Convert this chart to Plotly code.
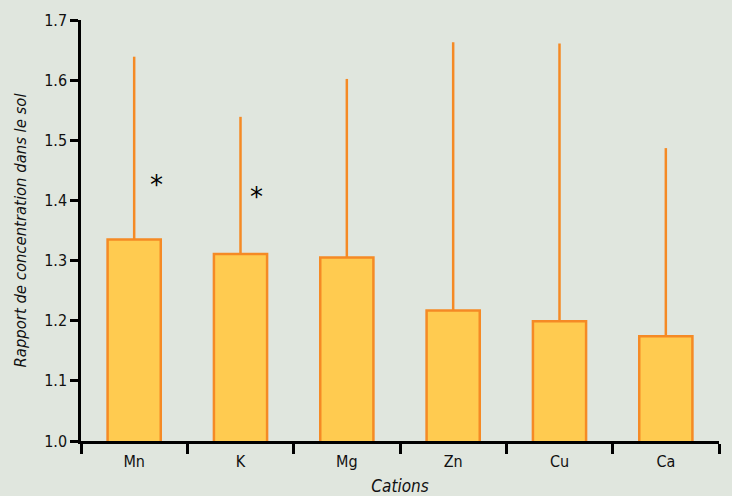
import plotly.graph_objects as go

categories = ["Mn", "K", "Mg", "Zn", "Cu", "Ca"]
means = [1.335, 1.311, 1.305, 1.217, 1.199, 1.174]
upper = [1.639, 1.539, 1.602, 1.663, 1.661, 1.487]
signif = ["*", "*", "", "", "", ""]
sig_y = [1.425, 1.405, None, None, None, None]

err_plus = [u - m for u, m in zip(upper, means)]

BG = "#E0E6DE"
FILL = "#FFCB50"
EDGE = "#F58A25"
FONT = "DejaVu Sans Condensed, Liberation Sans, sans-serif"
STAR_SHIFT = {"Mn": 22, "K": 16}

fig = go.Figure()
fig.add_trace(go.Bar(
    x=categories, y=means, width=0.5,
    marker=dict(color=FILL, line=dict(color=EDGE, width=2.5)),
    error_y=dict(type="data", symmetric=False, array=err_plus,
                 arrayminus=[0] * len(means), width=0, thickness=2.5, color=EDGE),
    hoverinfo="skip",
))

for c, s, yv in zip(categories, signif, sig_y):
    if s:
        fig.add_annotation(x=c, y=yv, text=s, showarrow=False,
                           xshift=STAR_SHIFT.get(c, 20),
                           font=dict(family="DejaVu Sans, sans-serif", size=26, color="#000"))

fig.update_layout(
    width=732, height=496,
    margin=dict(l=81, r=13, t=20, b=55),
    paper_bgcolor=BG, plot_bgcolor=BG,
    showlegend=False,
    font=dict(family=FONT, size=16, color="#111"),
    xaxis=dict(
        automargin=False,
        showline=True, linecolor="black", linewidth=2.5,
        ticks="outside", ticklen=10, tickwidth=2.5, tickcolor="black",
        tickson="boundaries", showgrid=False, ticklabelstandoff=4,
        tickfont=dict(size=16),
        title=dict(text="<i>Cations</i>", font=dict(size=17), standoff=14),
    ),
    yaxis=dict(
        automargin=False,
        range=[1.0, 1.7], tick0=1.0, dtick=0.1, tickformat=".1f",
        showline=True, linecolor="black", linewidth=2.5,
        ticks="outside", ticklen=8, tickwidth=2.5, tickcolor="black",
        showgrid=False, zeroline=False,
        tickfont=dict(size=16),
        title=dict(text="<i>Rapport de concentration dans le sol</i>",
                   font=dict(size=16.5), standoff=14),
    ),
)

fig.write_html("out.html", config={"displayModeBar": False},
               post_script="document.body.style.margin='0';")
